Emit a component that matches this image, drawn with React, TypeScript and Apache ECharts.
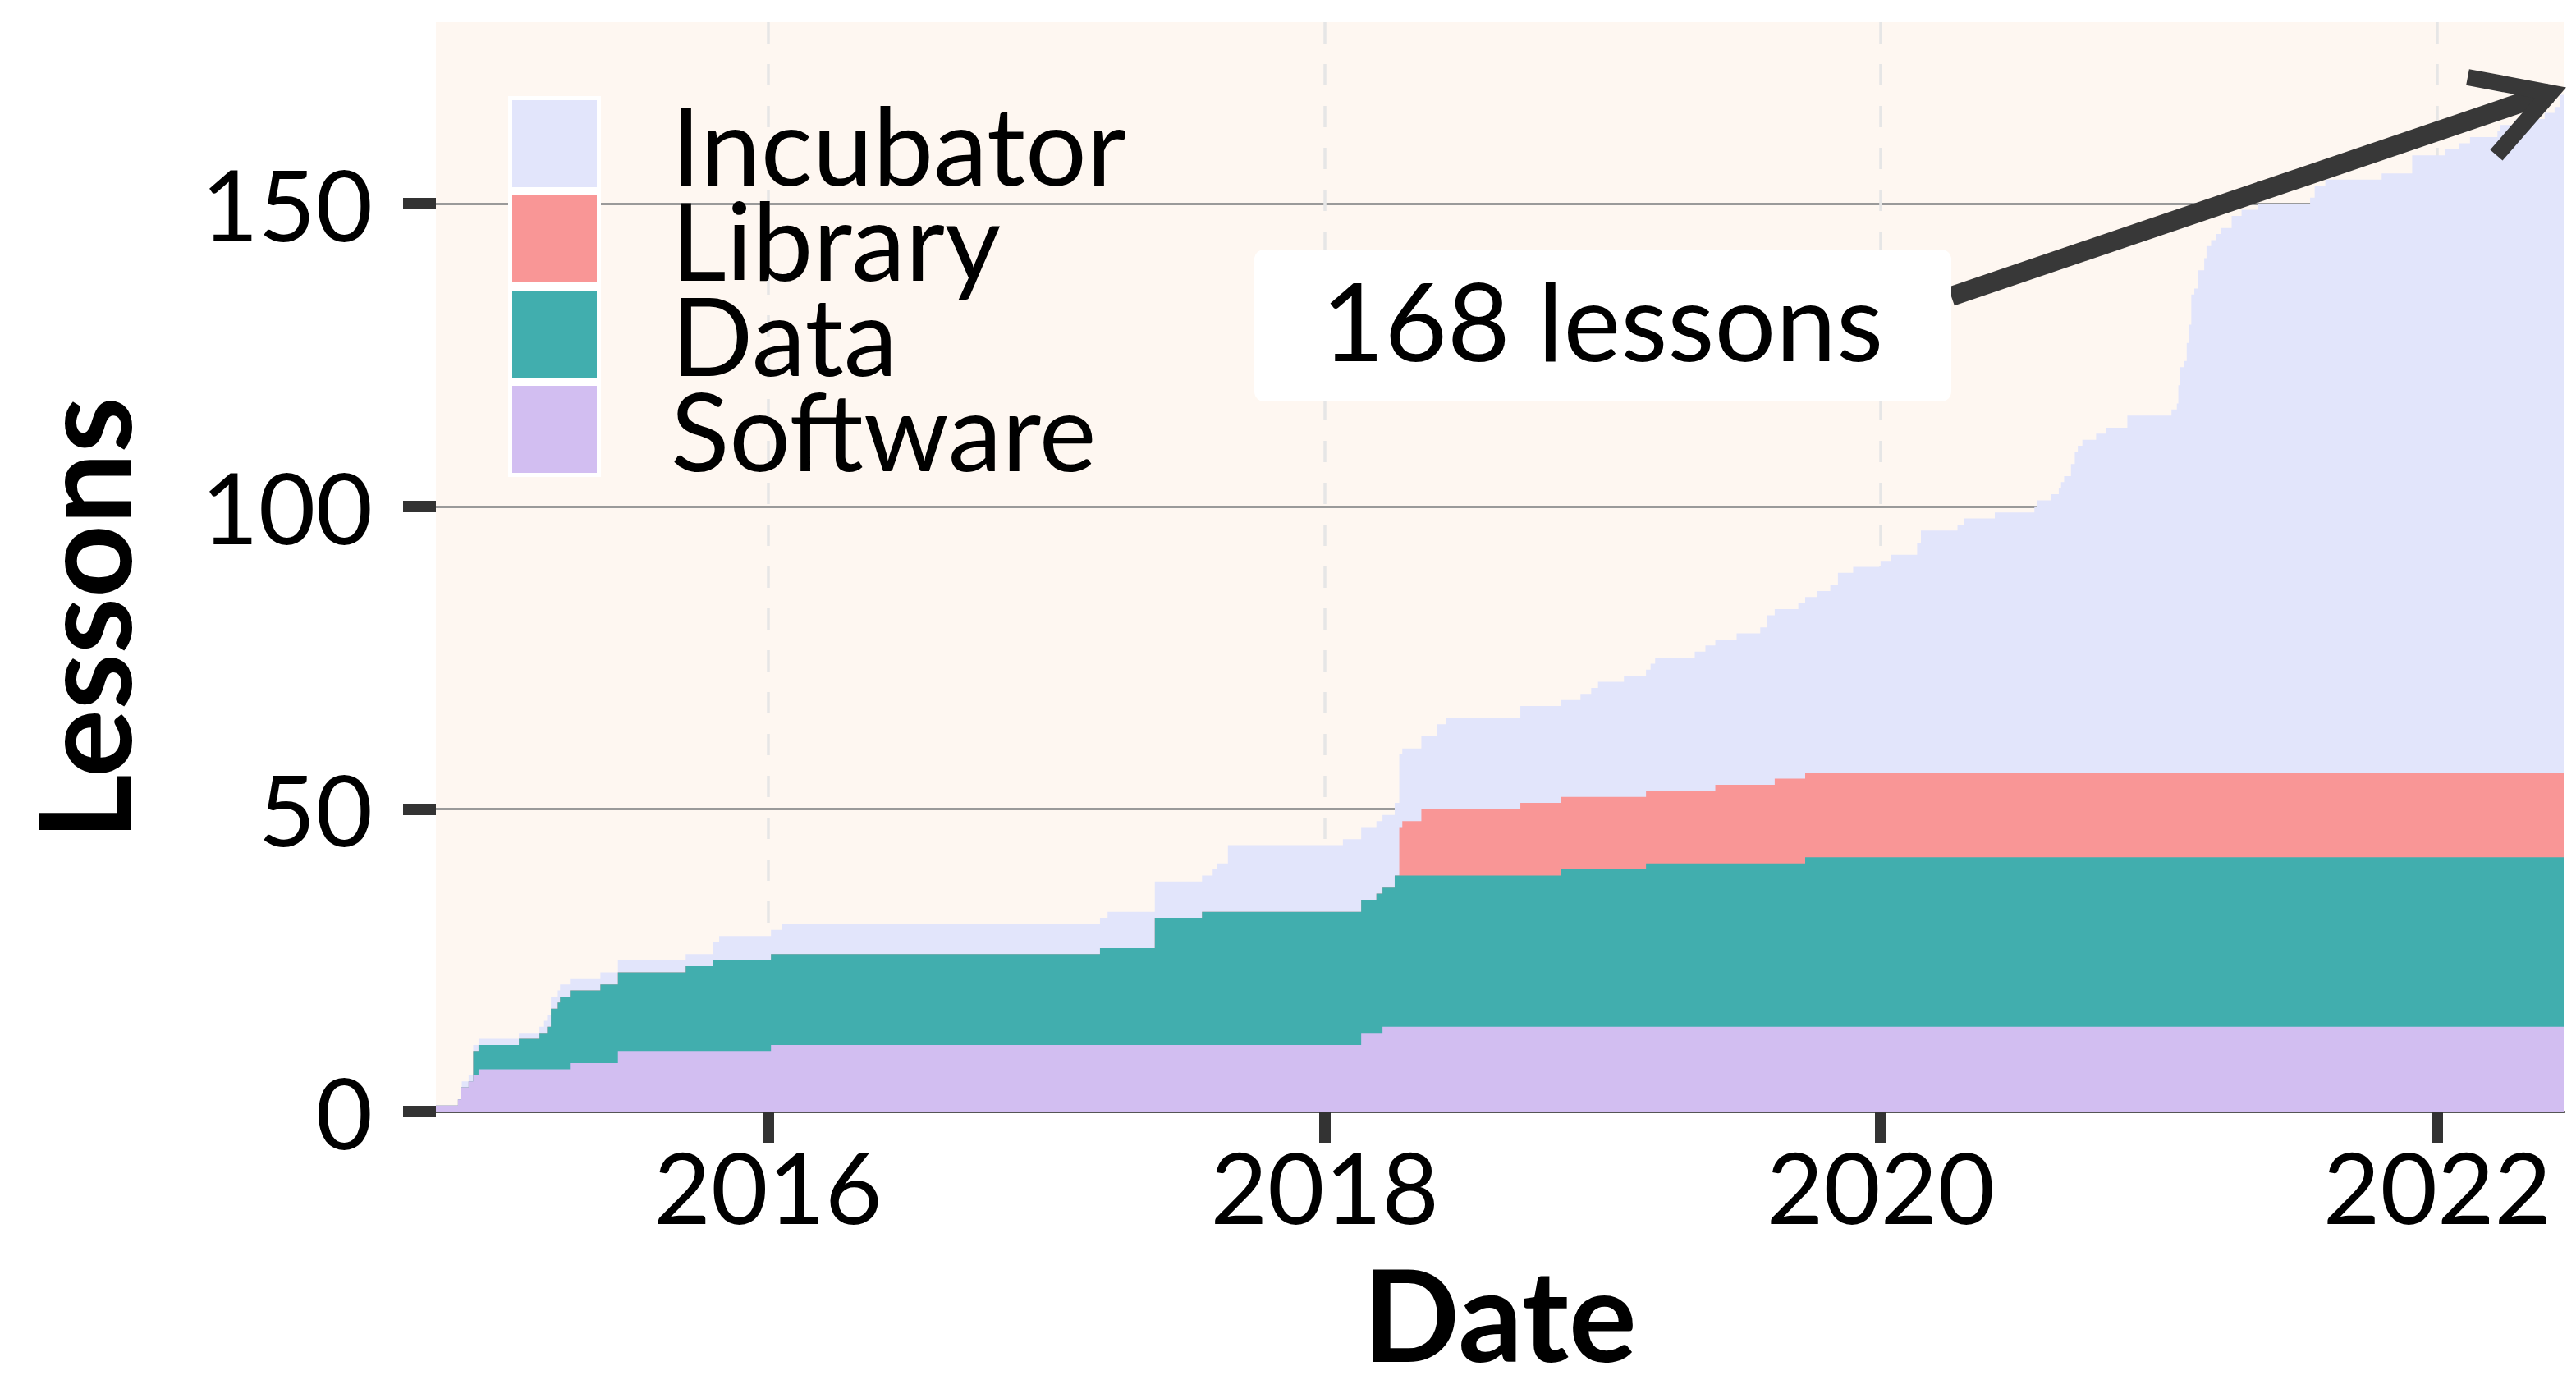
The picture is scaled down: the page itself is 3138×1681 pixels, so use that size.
import React, { useEffect, useRef } from "react";
import * as echarts from "echarts";

// ---------- data (cumulative lesson counts at the dates where they change) ----------
const startDate = "2014-10-22";
const endDate = "2022-06-16";

const softwareSteps: [string, number][] = [
  ["2014-10-22", 1], ["2014-11-20", 2], ["2014-11-24", 4], ["2014-12-04", 5],
  ["2014-12-10", 6], ["2014-12-17", 7], ["2015-04-16", 8], ["2015-06-18", 10],
  ["2016-01-05", 11], ["2018-02-18", 13], ["2018-03-18", 14],
];

const dataSteps: [string, number][] = [
  ["2014-10-22", 0], ["2014-12-10", 4], ["2015-02-08", 5], ["2015-03-07", 6],
  ["2015-03-17", 7], ["2015-03-22", 10], ["2015-03-31", 11], ["2015-04-03", 12],
  ["2015-05-26", 13], ["2015-09-15", 14], ["2015-10-21", 15], ["2017-03-12", 16],
  ["2017-05-23", 21], ["2017-07-24", 22], ["2018-03-10", 23], ["2018-04-03", 25],
  ["2018-11-07", 26], ["2019-02-27", 27], ["2019-09-24", 28],
];

const librarySteps: [string, number][] = [
  ["2014-10-22", 0], ["2018-04-09", 8], ["2018-04-13", 9], ["2018-05-08", 11],
  ["2018-09-15", 12], ["2019-05-29", 13], ["2019-08-15", 14],
];

const incubatorSteps: [string, number][] = [
  ["2014-10-22", 0], ["2014-11-25", 1], ["2015-03-13", 2], ["2015-10-21", 3],
  ["2015-10-29", 4], ["2016-01-19", 5], ["2017-03-22", 6], ["2017-08-07", 7],
  ["2017-08-13", 8], ["2017-08-27", 11], ["2018-01-25", 12], ["2018-05-29", 14],
  ["2018-06-09", 15], ["2018-09-15", 16], ["2018-12-03", 17], ["2018-12-17", 18],
  ["2018-12-26", 19], ["2019-01-29", 20], ["2019-03-05", 21], ["2019-03-11", 22],
  ["2019-05-02", 23], ["2019-05-16", 24], ["2019-06-26", 25], ["2019-07-27", 26],
  ["2019-08-05", 28], ["2019-09-15", 29], ["2019-10-10", 30], ["2019-10-27", 31],
  ["2019-11-06", 33], ["2019-11-26", 34], ["2020-01-01", 35], ["2020-01-15", 36],
  ["2020-02-18", 38], ["2020-02-23", 40], ["2020-04-11", 41], ["2020-04-20", 42],
  ["2020-05-30", 43], ["2020-07-21", 44], ["2020-07-25", 45], ["2020-08-12", 46],
  ["2020-08-22", 47], ["2020-08-25", 48], ["2020-08-29", 49], ["2020-09-07", 51],
  ["2020-09-12", 53], ["2020-09-16", 54], ["2020-09-22", 55], ["2020-10-10", 56],
  ["2020-10-23", 57], ["2020-11-20", 59], ["2021-01-17", 60], ["2021-01-24", 61],
  ["2021-01-26", 64], ["2021-01-28", 67], ["2021-02-02", 68], ["2021-02-06", 71],
  ["2021-02-09", 74], ["2021-02-12", 79], ["2021-02-16", 80], ["2021-02-21", 83],
  ["2021-03-01", 85], ["2021-03-04", 87], ["2021-03-10", 88], ["2021-03-16", 89],
  ["2021-03-23", 90], ["2021-04-06", 92], ["2021-04-19", 93], ["2021-05-11", 94],
  ["2021-07-18", 95], ["2021-07-24", 97], ["2021-08-07", 98], ["2021-10-20", 99],
  ["2021-11-29", 102], ["2022-01-11", 103], ["2022-01-29", 104], ["2022-02-13", 105],
  ["2022-03-21", 106], ["2022-03-25", 107], ["2022-04-14", 108], ["2022-05-22", 109],
  ["2022-06-04", 110], ["2022-06-11", 112],
];

// stacking order: bottom -> top
const seriesNames = ["Software", "Data", "Library", "Incubator"];
const legendOrder = ["Incubator", "Library", "Data", "Software"];
const seriesColors = ["#d2bef1", "#41aeae", "#f99696", "#e2e5fb"];

const xTickDates = ["2016-01-01", "2018-01-01", "2020-01-01", "2022-01-01"];
const yTickValues = [0, 50, 100, 150];
const yMax = 180;
const annotationText = "168 lessons";

// ---------- helpers ----------
function ts(s: string): number {
  const [y, m, d] = s.split("-").map(Number);
  return new Date(y, m - 1, d).getTime();
}

const stepLists = [softwareSteps, dataSteps, librarySteps, incubatorSteps];
const allDates = Array.from(
  new Set([...stepLists.flatMap((l) => l.map((p) => p[0])), endDate])
).sort();

// forward-fill each series (step semantics) on the common date list
const alignedValues = stepLists.map((list) => {
  let j = 0;
  let cur = 0;
  return allDates.map((d) => {
    while (j < list.length && list[j][0] <= d) {
      cur = list[j][1];
      j++;
    }
    return cur;
  });
});

// stacked tops (sum of this layer and all layers below it)
const stackedTops = alignedValues.map((_, k) =>
  allDates.map((d, i) => {
    let s = 0;
    for (let j = 0; j <= k; j++) s += alignedValues[j][i];
    return [ts(d), s];
  })
);

const FONT = "Lato";
const xTicks = xTickDates.map(ts);
const xMin = ts(startDate);
const xMax = ts(endDate);

function buildOption(): any {
  // draw the highest layer first so lower layers paint over it
  const drawOrder = [3, 2, 1, 0];
  return {
    animation: false,
    backgroundColor: "#ffffff",
    grid: {
      left: 531,
      top: 27,
      width: 2592,
      height: 1328,
      show: true,
      backgroundColor: "#fef7f1",
      borderWidth: 0,
      containLabel: false,
    },
    legend: {
      orient: "vertical",
      left: 624,
      top: 109,
      padding: 0,
      itemWidth: 103,
      itemHeight: 106,
      itemGap: -16,
      icon: "rect",
      selectedMode: false,
      data: legendOrder.map((n) => ({
        name: n,
        itemStyle: { color: seriesColors[seriesNames.indexOf(n)], borderWidth: 0 },
      })),
      textStyle: {
        fontSize: 132,
        fontFamily: FONT,
        color: "#000",
        padding: [0, 0, 0, 85],
      },
    },
    xAxis: {
      type: "value",
      min: xMin,
      max: xMax,
      interval: xMax - xMin,
      axisLine: { show: true, onZero: false, lineStyle: { color: "#555", width: 3 } },
      axisTick: {
        show: true,
        customValues: xTicks,
        length: 38,
        lineStyle: { color: "#333", width: 14 },
      },
      axisLabel: {
        customValues: xTicks,
        formatter: (v: number) => String(new Date(v).getFullYear()),
        fontSize: 120,
        fontFamily: FONT,
        color: "#000",
        margin: 31,
      },
      splitLine: {
        show: true,
        lineStyle: { color: "#e6e6e6", width: 3.5, type: [26, 25] },
      },
      name: "Date",
      nameLocation: "middle",
      nameGap: 167,
      nameTextStyle: { fontSize: 155, fontWeight: "bold", fontFamily: FONT, color: "#000" },
    },
    yAxis: {
      type: "value",
      min: 0,
      max: yMax,
      interval: 50,
      axisLine: { show: false },
      axisTick: {
        show: true,
        customValues: yTickValues,
        length: 40,
        lineStyle: { color: "#333", width: 14 },
      },
      axisLabel: {
        customValues: yTickValues,
        fontSize: 120,
        fontFamily: FONT,
        color: "#000",
        margin: 77,
      },
      splitLine: {
        show: true,
        lineStyle: { color: "#9a9a9a", width: 3 },
      },
      name: "Lessons",
      nameLocation: "middle",
      nameRotate: 90,
      nameGap: 354,
      nameTextStyle: {
        fontSize: 155,
        fontWeight: "bold",
        fontFamily: FONT,
        color: "#000",
        padding: [0, 126, 0, 0],
      },
    },
    series: drawOrder.map((i) => ({
      name: seriesNames[i],
      type: "line",
      step: "end",
      data: stackedTops[i],
      symbol: "none",
      showSymbol: false,
      silent: true,
      lineStyle: { width: 0, color: seriesColors[i] },
      itemStyle: { color: seriesColors[i] },
      areaStyle: { color: seriesColors[i], opacity: 1, origin: "start" },
      emphasis: { disabled: true },
    })),
    graphic: [
      // white frame behind the legend swatches
      {
        type: "rect",
        z: 3,
        shape: { x: 619, y: 117, width: 113, height: 464 },
        style: { fill: "#ffffff" },
        silent: true,
      },
      // arrow shaft
      {
        type: "line",
        z: 9,
        shape: { x1: 2377, y1: 361, x2: 3107, y2: 113 },
        style: { stroke: "#383838", lineWidth: 24, lineCap: "butt" },
        silent: true,
      },
      // arrow head
      {
        type: "polyline",
        z: 9,
        shape: { points: [[3006, 94], [3107, 113], [3041, 189]] },
        style: { stroke: "#383838", lineWidth: 20, lineJoin: "miter", lineCap: "butt", fill: null },
        silent: true,
      },
      // annotation box
      {
        type: "rect",
        z: 10,
        shape: { x: 1528, y: 304, width: 849, height: 185, r: 12 },
        style: { fill: "#ffffff" },
        silent: true,
      },
      {
        type: "text",
        z: 11,
        x: 1952,
        y: 389,
        style: {
          text: annotationText,
          fontSize: 132,
          fontFamily: FONT,
          fill: "#000",
          align: "center",
          verticalAlign: "middle",
        },
        silent: true,
      },
    ],
  };
}

export default function App() {
  const ref = useRef<HTMLDivElement>(null);
  useEffect(() => {
    if (!ref.current) return;
    const chart = echarts.init(ref.current, null, { renderer: "svg" });
    chart.setOption(buildOption());
    return () => {
      chart.dispose();
    };
  }, []);
  return (
    <div
      ref={ref}
      style={{ position: "absolute", left: 0, top: 0, width: 3138, height: 1681 }}
    />
  );
}
